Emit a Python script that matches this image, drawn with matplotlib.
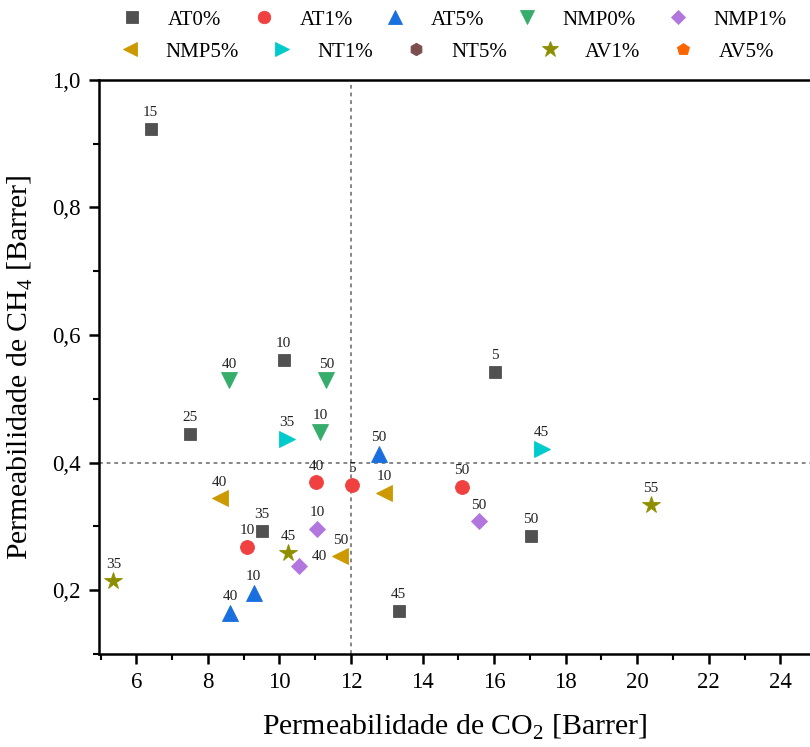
import matplotlib
matplotlib.use("Agg")
import matplotlib.pyplot as plt
from matplotlib.ticker import MultipleLocator, FuncFormatter

plt.rcParams['font.family'] = ['Liberation Serif', 'DejaVu Serif']
plt.rcParams['mathtext.fontset'] = 'custom'
plt.rcParams['mathtext.rm'] = 'Liberation Serif'

# CO2 / CH4 permeability (Barrer) per membrane series; labels give the parameter value
series_names = ["AT0%", "AT1%", "AT5%", "NMP0%", "NMP1%",
                "NMP5%", "NT1%", "NT5%", "AV1%", "AV5%"]

at0_co2 = [6.40, 10.12, 7.49, 9.50, 16.02, 17.03, 13.33]
at0_ch4 = [0.923, 0.561, 0.445, 0.293, 0.542, 0.285, 0.168]
at0_lbl = ["15", "10", "25", "35", "5", "50", "45"]

at1_co2 = [11.03, 12.03, 9.09, 15.09]
at1_ch4 = [0.369, 0.365, 0.268, 0.362]
at1_lbl = ["40", "5", "10", "50"]

at5_co2 = [12.78, 9.28, 8.63]
at5_ch4 = [0.414, 0.196, 0.164]
at5_lbl = ["50", "10", "40"]

nmp0_co2 = [8.59, 11.31, 11.14]
nmp0_ch4 = [0.529, 0.529, 0.448]
nmp0_lbl = ["40", "50", "10"]

nmp1_co2 = [11.05, 10.54, 15.57]
nmp1_ch4 = [0.296, 0.238, 0.308]
nmp1_lbl = ["10", "40", "50"]

nmp5_co2 = [8.33, 12.92, 11.70]
nmp5_ch4 = [0.344, 0.353, 0.253]
nmp5_lbl = ["40", "10", "50"]

nt1_co2 = [10.21, 17.33]
nt1_ch4 = [0.437, 0.422]
nt1_lbl = ["35", "45"]

nt5_co2 = []
nt5_ch4 = []
nt5_lbl = []

av1_co2 = [10.24, 5.36, 20.38]
av1_ch4 = [0.259, 0.215, 0.334]
av1_lbl = ["45", "35", "55"]

av5_co2 = []
av5_ch4 = []
av5_lbl = []

co2_data = [at0_co2, at1_co2, at5_co2, nmp0_co2, nmp1_co2,
            nmp5_co2, nt1_co2, nt5_co2, av1_co2, av5_co2]
ch4_data = [at0_ch4, at1_ch4, at5_ch4, nmp0_ch4, nmp1_ch4,
            nmp5_ch4, nt1_ch4, nt5_ch4, av1_ch4, av5_ch4]
lbl_data = [at0_lbl, at1_lbl, at5_lbl, nmp0_lbl, nmp1_lbl,
            nmp5_lbl, nt1_lbl, nt5_lbl, av1_lbl, av5_lbl]

colors = ["#515151", "#F14040", "#1A6FDF", "#37AD6B", "#B177DE",
          "#CC9900", "#00CBCC", "#7D4E4E", "#8E8E00", "#FB6501"]
markers = ["s", "o", "^", "v", "D", "<", ">", "h", "*", "p"]
msizes = [9, 10, 11, 11, 8, 11, 11, 10, 13, 10]

# label placement tweaks (series index, point index) -> offset in points
label_offsets = {(4, 1): (9, 2)}

fig = plt.figure(figsize=(8.10, 7.47), dpi=100)
ax = fig.add_axes([0.122, 0.1245, 0.878, 0.7685])

handles = []
for i, name in enumerate(series_names):
    h, = ax.plot(co2_data[i], ch4_data[i], linestyle="none", marker=markers[i],
                 markersize=msizes[i], color=colors[i], markeredgewidth=0.6,
                 markeredgecolor=colors[i], label=name, zorder=3)
    handles.append(h)
    for j, (xv, yv, t) in enumerate(zip(co2_data[i], ch4_data[i], lbl_data[i])):
        off = label_offsets.get((i, j), (0, 7))
        ax.annotate(t, (xv, yv), xytext=off, textcoords="offset points",
                    ha="center" if off[0] == 0 else "left", va="bottom",
                    fontsize=11, color="#222222", zorder=4)

ax.axvline(12, color="#666666", linestyle=(0, (2.5, 2.5)), linewidth=1.1, zorder=1)
ax.axhline(0.4, color="#666666", linestyle=(0, (2.5, 2.5)), linewidth=1.1, zorder=1)

ax.set_xlim(4.95, 24.83)
ax.set_ylim(0.1, 1.0)
ax.xaxis.set_major_locator(MultipleLocator(2))
ax.xaxis.set_minor_locator(MultipleLocator(1))
ax.yaxis.set_major_locator(MultipleLocator(0.2))
ax.yaxis.set_minor_locator(MultipleLocator(0.1))
ax.yaxis.set_major_formatter(FuncFormatter(lambda v, p: f"{v:.1f}".replace(".", ",")))

ax.spines["right"].set_visible(False)
for s in ["left", "bottom", "top"]:
    ax.spines[s].set_linewidth(1.8)
ax.tick_params(which="major", direction="out", length=7, width=1.8, labelsize=16.5, pad=6)
ax.tick_params(which="minor", direction="out", length=4, width=1.5)
ax.tick_params(top=False, right=False)

ax.set_xlabel(r"Permeabilidade de CO$_\mathregular{2}$ [Barrer]", fontsize=21.5, labelpad=14)
ax.set_ylabel(r"Permeabilidade de CH$_\mathregular{4}$ [Barrer]", fontsize=21.5, labelpad=12)

# two-row legend, each row laid out on its own
legend_kw = dict(loc="center left", ncol=5, frameon=False, fontsize=15,
                 handlelength=1.0, handletextpad=1.2, columnspacing=1.55,
                 borderpad=0, borderaxespad=0, markerscale=0.9,
                 bbox_transform=fig.transFigure)
fig.legend(handles[:5], series_names[:5],
           bbox_to_anchor=(122 / 810, 1 - 20 / 747), **legend_kw)
fig.legend(handles[5:], series_names[5:],
           bbox_to_anchor=(120 / 810, 1 - 52 / 747), **legend_kw)

fig.savefig("out.png", dpi=100)
